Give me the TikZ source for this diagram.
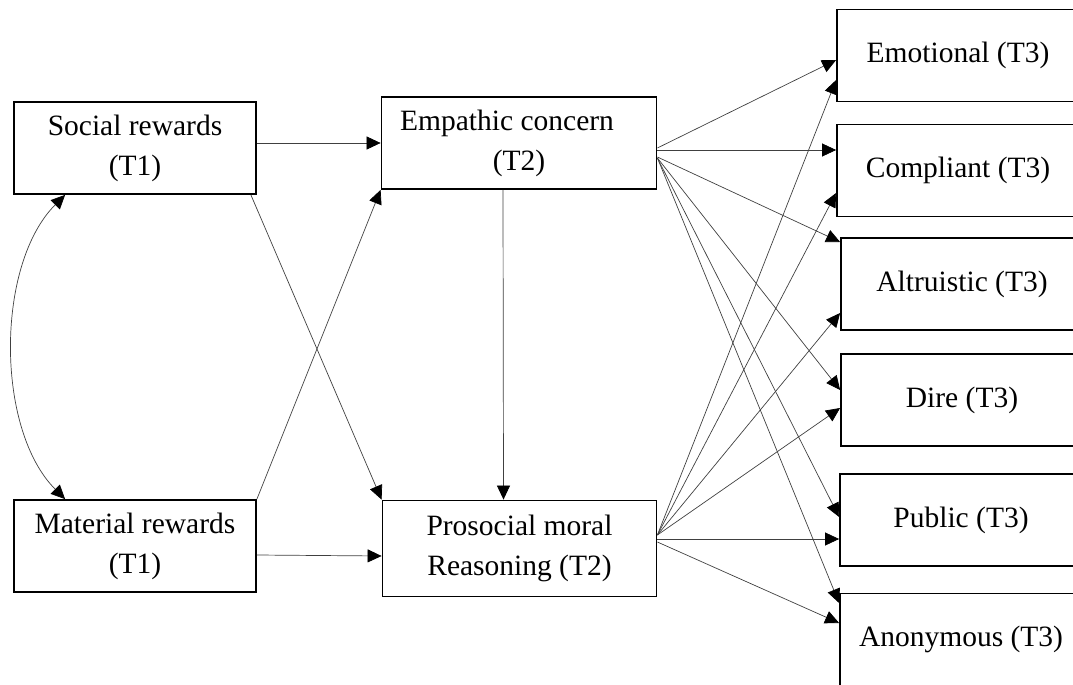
\documentclass[tikz,border=0pt]{standalone}
\usepackage{fontspec}
\setmainfont{Liberation Serif}
\usetikzlibrary{arrows.meta}
\begin{document}
\begin{tikzpicture}[x=1pt,y=1pt,
		>={Triangle[length=14pt,width=13pt,color=black]},
		box/.style={draw,line width=1.8pt,minimum width=242pt,minimum height=92pt,inner sep=0pt,align=center,font=\fontsize{29.5}{40}\selectfont},
		arr/.style={draw=black!75,line width=0.7pt,->}]
			\useasboundingbox (0,0) rectangle (1073,-685);
			\clip (0,0) rectangle (1073,-685);

			\node (soc) at (135,-148)[box]{Social rewards\\(T1)};
			\node (mat) at (135,-546)[box]{Material rewards\\(T1)};

			\node (emp) at (519,-143)[box,minimum width=275pt]{Empathic concern\hspace*{24pt}\\(T2)};
			\node (pro) at (519.5,-548.5)[box,minimum width=274pt,minimum height=96pt]{Prosocial moral\\Reasoning (T2)};

			\node (emo) at (958,-55.5)[box]{Emotional (T3)};
			\node (com) at (958,-170.5)[box]{Compliant (T3)};
			\node (alt) at (962,-284)[box]{Altruistic (T3)};
			\node (dire) at (962,-400)[box]{Dire (T3)};
			\node (pub) at (961,-520)[box]{Public (T3)};
			\node (ano) at (961,-639.5)[box]{Anonymous (T3)};

			\draw[arr] (soc.east |- emp.west) -- (emp.west);
			\draw[arr] ([yshift=-9pt]mat.east) -- ([yshift=-7.5pt]pro.west);
			\draw[arr] ([xshift=-6pt]soc.south east) -- (pro.north west);
			\draw[arr] (mat.north east) -- (emp.south west);
			\draw[arr] ([xshift=-16pt]emp.south) -- ([xshift=-16pt]pro.north);
			\draw[arr,<->] ([xshift=52pt]soc.south west) to[out=225,in=135,looseness=0.83] ([xshift=52pt]mat.north west);

			\draw[arr] ([yshift=-5pt]emp.east) -- ([yshift=-4.5pt]emo.west);
			\draw[arr] ([yshift=-7pt]emp.east) -- ([yshift=20.5pt]com.west);
			\draw[arr] ([yshift=-14pt]emp.east) -- ([yshift=42pt]alt.west);
			\draw[arr] ([yshift=-15pt]emp.east) -- ([yshift=10pt]dire.west);
			\draw[arr] ([yshift=-15pt]emp.east) -- ([yshift=3pt]pub.west);
			\draw[arr] ([yshift=-15pt]emp.east) -- ([yshift=36.5pt]ano.west);

			\draw[arr] ([yshift=13.5pt]pro.east) -- ([yshift=-24.5pt]emo.west);
			\draw[arr] ([yshift=13.5pt]pro.east) -- ([yshift=-22.5pt]com.west);
			\draw[arr] ([yshift=13.5pt]pro.east) -- ([yshift=-29pt]alt.west);
			\draw[arr] ([yshift=13.5pt]pro.east) -- ([yshift=-8pt]dire.west);
			\draw[arr] ([yshift=9.5pt]pro.east) -- ([yshift=-19pt]pub.west);
			\draw[arr] ([yshift=6.5pt]pro.east) -- ([yshift=16.5pt]ano.west);
		\end{tikzpicture}
\end{document}
